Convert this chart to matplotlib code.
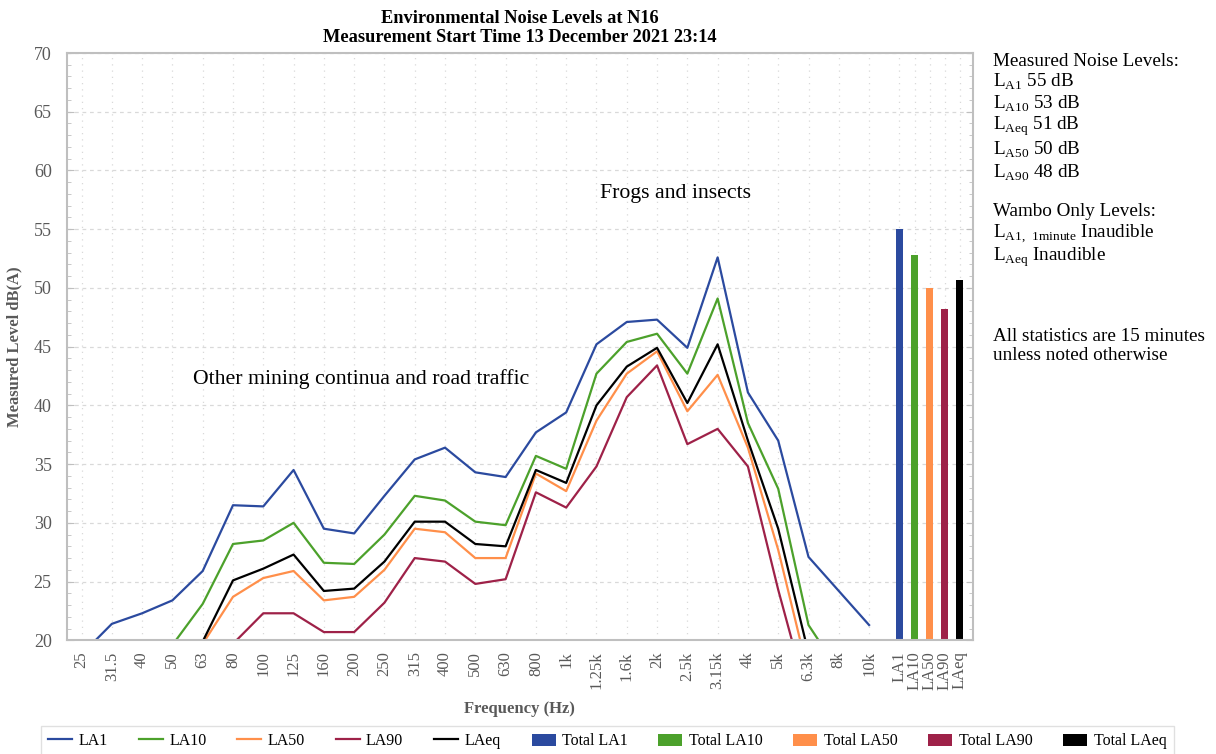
import numpy as np
import matplotlib
matplotlib.use("Agg")
import matplotlib.pyplot as plt

# fonts - serif look like the original
plt.rcParams['font.family'] = ['Liberation Serif', 'DejaVu Serif']
plt.rcParams['mathtext.fontset'] = 'custom'
plt.rcParams['mathtext.rm'] = 'Liberation Serif'

# third octave bands
freqs = ['25', '31.5', '40', '50', '63', '80', '100', '125', '160', '200', '250', '315',
         '400', '500', '630', '800', '1k', '1.25k', '1.6k', '2k', '2.5k', '3.15k', '4k',
         '5k', '6.3k', '8k', '10k']

# spectrum levels dB(A) (values under 20 are cut off by the axis)
la1 = [18.8, 21.4, 22.3, 23.4, 25.9, 31.5, 31.4, 34.5, 29.5, 29.1, 32.3, 35.4, 36.4, 34.3,
       33.9, 37.7, 39.4, 45.2, 47.1, 47.3, 44.9, 52.6, 41.1, 37.0, 27.1, 24.2, 21.3]
la10 = [15.0, 16.5, 17.8, 19.6, 23.1, 28.2, 28.5, 30.0, 26.6, 26.5, 29.0, 32.3, 31.9, 30.1,
        29.8, 35.7, 34.6, 42.7, 45.4, 46.1, 42.7, 49.1, 38.5, 32.9, 21.3, 17.4, 15.5]
la50 = [12.5, 14.0, 15.5, 17.0, 19.7, 23.7, 25.3, 25.9, 23.4, 23.7, 26.0, 29.5, 29.2, 27.0,
        27.0, 34.2, 32.7, 38.7, 42.7, 44.6, 39.5, 42.6, 36.4, 27.7, 17.1, 13.5, 12.0]
la90 = [11.0, 12.5, 14.0, 15.5, 17.5, 19.7, 22.3, 22.3, 20.7, 20.7, 23.2, 27.0, 26.7, 24.8,
        25.2, 32.6, 31.3, 34.8, 40.7, 43.4, 36.7, 38.0, 34.8, 24.3, 14.8, 11.0, 10.0]
laeq = [13.5, 15.0, 16.5, 18.0, 19.9, 25.1, 26.1, 27.3, 24.2, 24.4, 26.7, 30.1, 30.1, 28.2,
        28.0, 34.5, 33.4, 40.0, 43.3, 44.9, 40.2, 45.2, 37.0, 29.5, 18.9, 15.0, 13.5]

# overall levels
total_names = ['LA1', 'LA10', 'LA50', 'LA90', 'LAeq']
total_vals = [55.0, 52.8, 50.0, 48.2, 50.7]

colours = ['#2B4A9F', '#4CA12B', '#FF8F4A', '#9E2148', '#000000']
series = [la1, la10, la50, la90, laeq]

fig = plt.figure(figsize=(12.16, 7.54), dpi=100)
ax = fig.add_axes([0.0551, 0.1508, 0.7448, 0.7789])

x = np.arange(len(freqs))
for name, vals, c in zip(total_names, series, colours):
    ax.plot(x, vals, color=c, lw=1.6, label=name)

# the totals sit after the bands, half a band apart
xb = len(freqs) + 0.5 * np.arange(len(total_names))
for name, v, c, xx in zip(total_names, total_vals, colours, xb):
    ax.bar(xx, v - 20, bottom=20, width=0.23, color=c, label='Total ' + name)

ax.set_xlim(-0.48, 29.42)
ax.set_ylim(20, 70)
ax.set_yticks(np.arange(20, 71, 5))
ax.set_yticks(np.arange(20, 71, 1), minor=True)
ax.set_xticks(list(x) + list(xb))
ax.set_xticklabels(freqs + total_names, rotation=90, fontsize=12, color='#595959')
ax.tick_params(axis='x', length=0, pad=8)
ax.tick_params(axis='y', which='both', direction='in', left=True, right=True,
               color='#BFBFBF', labelsize=13, labelcolor='#595959', pad=11)
ax.tick_params(axis='y', which='major', length=5)
ax.tick_params(axis='y', which='minor', length=3)

ax.grid(axis='y', which='major', color='#D9D9D9', ls=(0, (3, 3)), lw=0.9)
ax.grid(axis='x', color='#D9D9D9', ls=(0, (1, 4)), lw=0.9)
ax.set_axisbelow(True)
for s in ax.spines.values():
    s.set_color('#BFBFBF')
    s.set_linewidth(1.5)

ax.set_ylabel('Measured Level dB(A)', fontsize=12, fontweight='bold', color='#595959', labelpad=8)
ax.set_xlabel('Frequency (Hz)', fontsize=12, fontweight='bold', color='#595959', labelpad=8)
ax.set_title('Environmental Noise Levels at N16\nMeasurement Start Time 13 December 2021 23:14',
             fontsize=13.2, fontweight='bold', pad=8, linespacing=1.15)

ax.text(9.22, 42.2, 'Other mining continua and road traffic', fontsize=15.7, ha='center', va='center')
ax.text(19.6, 58.0, 'Frogs and insects', fontsize=15.7, ha='center', va='center')

# notes on the right
notes = [
    ('Measured Noise Levels:', 61),
    (r'L$_\mathrm{A1}$ 55 dB', 82),
    (r'L$_\mathrm{A10}$ 53 dB', 104),
    (r'L$_\mathrm{Aeq}$ 51 dB', 126),
    (r'L$_\mathrm{A50}$ 50 dB', 150),
    (r'L$_\mathrm{A90}$ 48 dB', 173),
    ('Wambo Only Levels:', 212),
    (r'L$_\mathrm{A1,\ 1minute}$ Inaudible', 234),
    (r'L$_\mathrm{Aeq}$ Inaudible', 257),
    ('All statistics are 15 minutes', 336),
    ('unless noted otherwise', 356),
]
for txt, ypix in notes:
    fig.text(993 / 1216, 1 - ypix / 754, txt, fontsize=13.8, ha='left', va='center')

leg = fig.legend(loc='upper center', bbox_to_anchor=(0.4995, 1 - 726 / 754), ncol=10,
                 fontsize=11.5, frameon=True, fancybox=False, edgecolor='#D9D9D9',
                 handlelength=1.5, handleheight=0.8, columnspacing=1.93, handletextpad=0.4,
                 borderpad=0.45, borderaxespad=0)

fig.savefig('out.png', dpi=100)
